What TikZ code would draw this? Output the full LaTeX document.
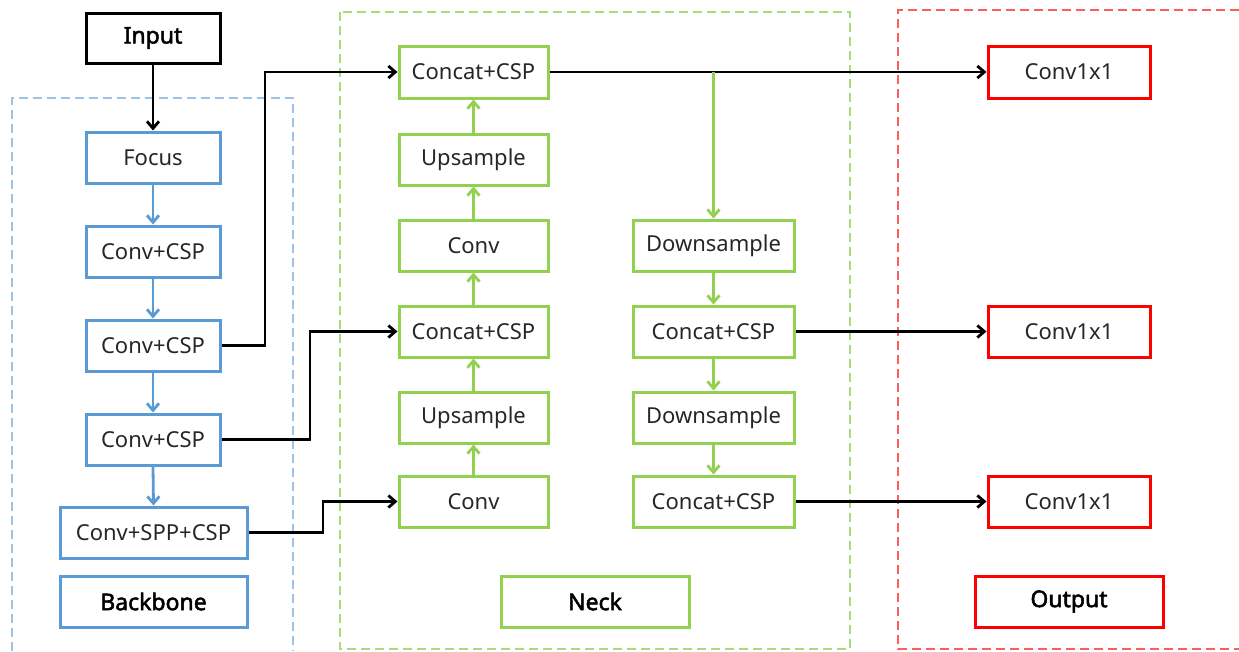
\documentclass[tikz,border=0pt]{standalone}
\usepackage{fontspec}
\setmainfont{Noto Sans}[AutoFakeBold=2.2]
\usetikzlibrary{arrows.meta}
\definecolor{cblue}{HTML}{5B9BD5}
\definecolor{cgreen}{HTML}{92D050}
\definecolor{cred}{HTML}{FF0000}
\definecolor{dblue}{HTML}{9DC3E6}
\definecolor{dgreen}{HTML}{A9DB7A}
\definecolor{dred}{HTML}{FF5C5C}
\tikzset{
  box/.style={draw, line width=3pt, inner sep=0pt, font=\fontsize{22}{26}\selectfont, text=black!85},
  bbox/.style={box, draw=cblue},
  gbox/.style={box, draw=cgreen},
  rbox/.style={box, draw=cred},
  lbl/.style={font=\fontsize{23}{27}\selectfont\bfseries, text=black},
  tip/.style={-{Straight Barb[length=7pt,width=12pt,line width=2.8pt]}},
  barrow/.style={tip, line width=2.8pt, black},
  blarrow/.style={tip, line width=2.8pt, cblue},
  garrow/.style={tip, line width=2.8pt, cgreen},
  dashbox/.style={line width=1.4pt, dash pattern=on 9pt off 5pt},
}
\begin{document}
\begin{tikzpicture}[x=1pt,y=-1pt]
\useasboundingbox (0,0) rectangle (1239,651);
% group frames
\draw[dashbox, dblue] (12,651) -- (12,98) -- (293,98) -- (293,651);
\draw[dashbox, dgreen] (340,12) rectangle (850,649);
\draw[dashbox, dred] (1239,10) -- (898,10) -- (898,649) -- (1239,649);
% input
\node[box, draw=black, minimum width=134pt, minimum height=50pt] (in) at (153,38) {};
\node[lbl] at (in) {Input};
% backbone
\node[bbox, minimum width=134pt, minimum height=51pt] (focus) at (153,157.5) {Focus};
\node[bbox, minimum width=134pt, minimum height=51pt] (c1) at (153,251.5) {Conv+CSP};
\node[bbox, minimum width=134pt, minimum height=51pt] (c2) at (153,345.5) {Conv+CSP};
\node[bbox, minimum width=134pt, minimum height=51pt] (c3) at (153,439.5) {Conv+CSP};
\node[bbox, minimum width=187pt, minimum height=51pt] (spp) at (153.5,532.5) {Conv+SPP+CSP};
\node[bbox, minimum width=187pt, minimum height=51pt] (bb) at (153.5,601.5) {};
\node[lbl] at (bb) {Backbone};
% neck col 1
\node[gbox, minimum width=149pt, minimum height=52pt] (cc1) at (473.5,72) {Concat+CSP};
\node[gbox, minimum width=149pt, minimum height=51pt] (up1) at (473.5,159.5) {Upsample};
\node[gbox, minimum width=149pt, minimum height=51pt] (cv1) at (473.5,245.5) {Conv};
\node[gbox, minimum width=149pt, minimum height=51pt] (cc2) at (473.5,331.5) {Concat+CSP};
\node[gbox, minimum width=149pt, minimum height=51pt] (up2) at (473.5,417.5) {Upsample};
\node[gbox, minimum width=149pt, minimum height=51pt] (cv2) at (473.5,501.5) {Conv};
% neck col 2
\node[gbox, minimum width=161pt, minimum height=51pt] (ds1) at (713.5,245.5) {Downsample};
\node[gbox, minimum width=161pt, minimum height=51pt] (cc3) at (713.5,331.5) {Concat+CSP};
\node[gbox, minimum width=161pt, minimum height=51pt] (ds2) at (713.5,417.5) {Downsample};
\node[gbox, minimum width=161pt, minimum height=51pt] (cc4) at (713.5,501.5) {Concat+CSP};
\node[gbox, minimum width=188pt, minimum height=51pt] (nk) at (595,601.5) {};
\node[lbl] at (nk) {Neck};
% outputs
\node[rbox, minimum width=162pt, minimum height=52pt] (o1) at (1069,72) {Conv1x1};
\node[rbox, minimum width=162pt, minimum height=51pt] (o2) at (1069,331.5) {Conv1x1};
\node[rbox, minimum width=162pt, minimum height=51pt] (o3) at (1069,501.5) {Conv1x1};
\node[rbox, minimum width=188pt, minimum height=51pt] (op) at (1069,601.5) {};
\node[lbl] at (op) {Output};
% connectors
\draw[barrow] (in) -- (focus);
\draw[blarrow] (focus) -- (c1);
\draw[blarrow] (c1) -- (c2);
\draw[blarrow] (c2) -- (c3);
\draw[blarrow] (c3.south) -- (spp.north);
\draw[barrow] (c2.east) -- (265,345.5) |- (cc1.west);
\draw[barrow] (c3.east) -- (310,439.5) |- (cc2.west);
\draw[barrow] (spp.east) -- (323,532.5) |- (cv2.west);
\draw[garrow] (cv2) -- (up2);
\draw[garrow] (up2) -- (cc2);
\draw[garrow] (cc2) -- (cv1);
\draw[garrow] (cv1) -- (up1);
\draw[garrow] (up1) -- (cc1);
\draw[barrow] (cc1) -- (o1);
\coordinate (br) at (ds1.north |- cc1.east);
\draw[garrow] (br) -- (ds1);
\draw[garrow] (ds1) -- (cc3);
\draw[garrow] (cc3) -- (ds2);
\draw[garrow] (ds2) -- (cc4);
\draw[barrow] (cc3) -- (o2);
\draw[barrow] (cc4) -- (o3);
\end{tikzpicture}
\end{document}
